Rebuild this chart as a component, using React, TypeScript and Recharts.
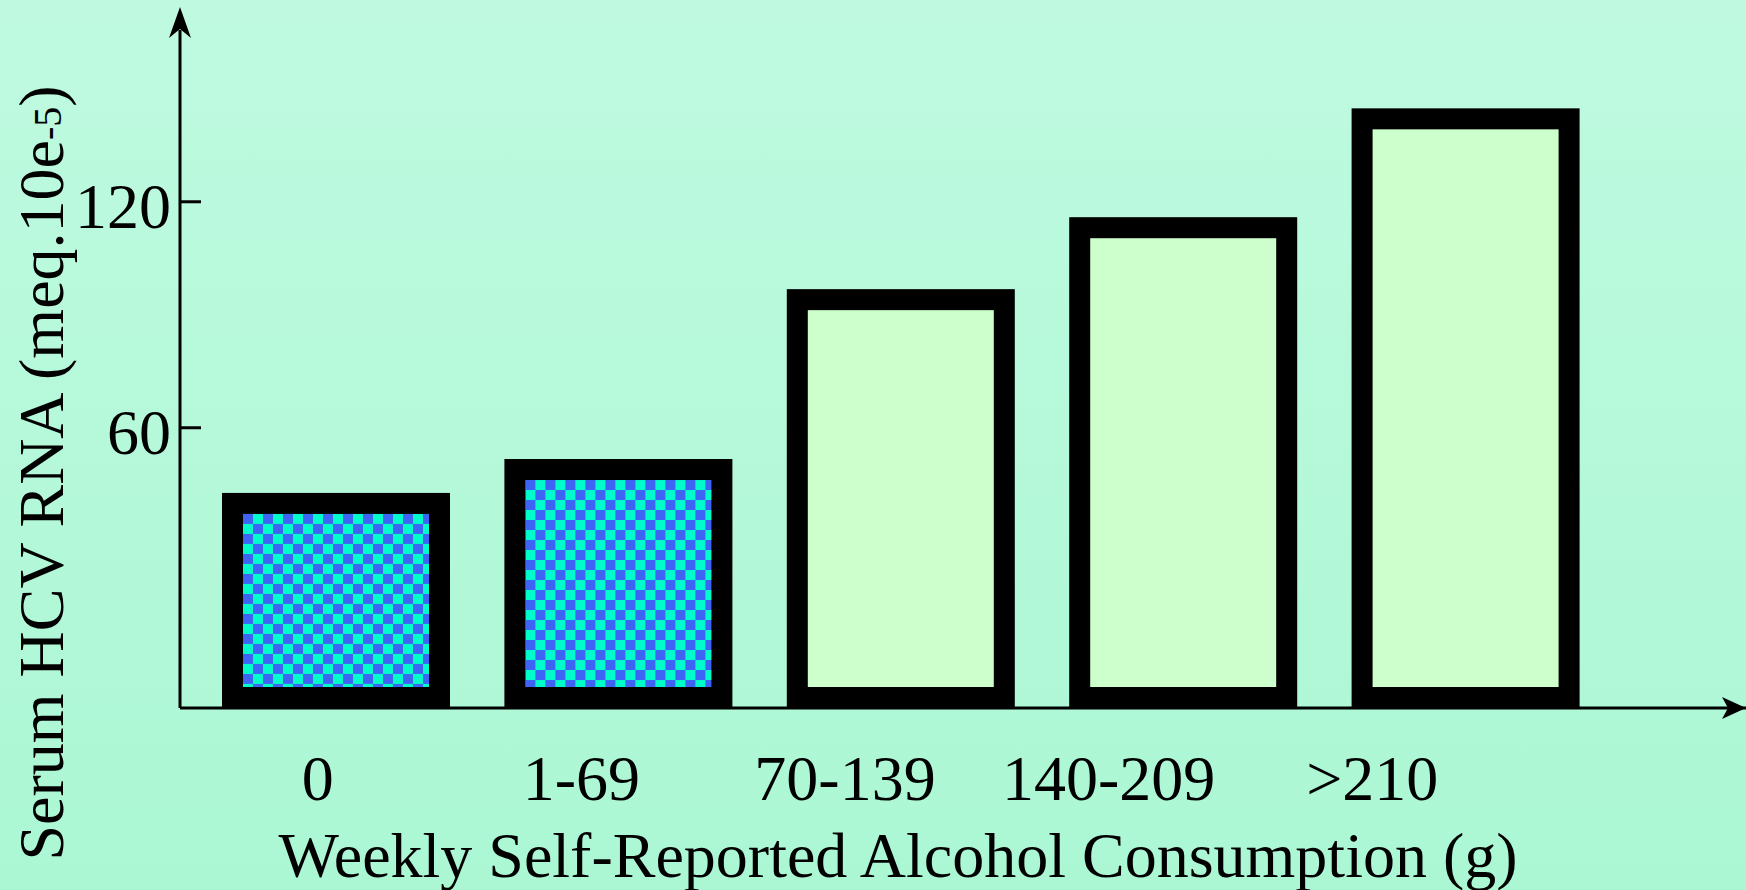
import React from 'react';
import * as R from 'recharts';

const { BarChart, Bar, XAxis, YAxis, Label } = R as any;

// ---- data ----
const CATEGORIES = ['0', '1-69', '70-139', '140-209', '>210'];
const HCV_RNA = [42.7, 51.7, 96.8, 115.9, 144.8];
const Y_TICKS = [60, 120];
const Y_DOMAIN: [number, number] = [-14.4, 165.6];
const X_TITLE = 'Weekly Self-Reported Alcohol Consumption (g)';
const Y_TITLE_MAIN = 'Serum HCV RNA (meq.10e';
const Y_TITLE_SUP = '-5';
const Y_TITLE_END = ')';

const data = CATEGORIES.map((name, i) => ({ name, range: [Y_DOMAIN[0], HCV_RNA[i]] }));

// ---- style ----
const FONT = '"Liberation Serif", "Times New Roman", serif';
const FS = 64;
const SW = 21;
const BLUE = '#3d64f5';
const CYAN = '#00fccb';
const LIGHT = '#ccffcc';
const CHECKER_COUNT = 2;

function BarShape(props: any) {
  const { x, y, width, height, index, payload } = props;
  const top = Math.min(y, y + height);
  const h = Math.abs(height);
  const idx = typeof index === 'number' ? index : CATEGORIES.indexOf(payload?.name);
  const checker = idx < CHECKER_COUNT;
  const pid = `chk-${idx}`;
  return (
    <g>
      {checker && (
        <defs>
          <pattern id={pid} x={x + SW} y={top + SW} width={20} height={20} patternUnits="userSpaceOnUse">
            <rect x={0} y={0} width={20} height={20} fill={CYAN} />
            <rect x={0} y={0} width={10} height={10} fill={BLUE} />
            <rect x={10} y={10} width={10} height={10} fill={BLUE} />
          </pattern>
        </defs>
      )}
      <rect
        x={x + SW / 2}
        y={top + SW / 2}
        width={Math.max(0, width - SW)}
        height={Math.max(0, h - SW)}
        fill={checker ? `url(#${pid})` : LIGHT}
        stroke="#000"
        strokeWidth={SW}
      />
    </g>
  );
}

function YTick(props: any) {
  const { x, y, payload } = props;
  return (
    <g>
      <line x1={x + 9} x2={x + 30} y1={y} y2={y} stroke="#000" strokeWidth={3} />
      <text x={x} y={y} dy={26} textAnchor="end" fontSize={FS} fontFamily={FONT} fill="#000">
        {payload.value}
      </text>
    </g>
  );
}

function YTitle(props: any) {
  const vb = props.viewBox || { x: 0, y: 30, width: 180, height: 678 };
  const cx = vb.x + 63;
  const cy = vb.y + 443;
  return (
    <text
      transform={`translate(${cx},${cy}) rotate(-90)`}
      textAnchor="middle"
      fontFamily={FONT}
      fontSize={FS}
      fill="#000"
    >
      {Y_TITLE_MAIN}
      <tspan fontSize={40} dy={-2}>{Y_TITLE_SUP}</tspan>
      <tspan dy={2}>{Y_TITLE_END}</tspan>
    </text>
  );
}

function XTitle(props: any) {
  const vb = props.viewBox || { x: 180, y: 708, width: 1566, height: 182 };
  return (
    <text x={vb.x + 718} y={vb.y + 169} textAnchor="middle" fontFamily={FONT} fontSize={FS} fill="#000">
      {X_TITLE}
    </text>
  );
}

const usePlotAreaHook = (R as any).usePlotArea;

function AxisArrows() {
  const pa = usePlotAreaHook ? usePlotAreaHook() : undefined;
  const area = pa || { x: 180, y: 30, width: 1566, height: 678 };
  const { x, y, width, height } = area;
  const bottom = y + height;
  const right = x + width;
  return (
    <g>
      <polygon
        points={`${x},${y - 23} ${x + 11},${y + 8} ${x},${y - 1} ${x - 11},${y + 8}`}
        fill="#000"
      />
      <polygon
        points={`${right},${bottom} ${right - 24},${bottom - 11} ${right - 18},${bottom} ${right - 24},${bottom + 11}`}
        fill="#000"
      />
    </g>
  );
}

export default function App() {
  return (
    <div
      style={{
        position: 'absolute',
        left: 0,
        top: 0,
        width: 1746,
        height: 890,
        background: 'linear-gradient(180deg, #bffae0 0%, #abf7d4 100%)',
      }}
    >
      <BarChart
        width={1746}
        height={890}
        data={data}
        margin={{ top: 30, right: 0, bottom: 0, left: 0 }}
      >
        <XAxis
          xAxisId="labels"
          dataKey="name"
          type="category"
          height={182}
          padding={{ left: 6, right: 242 }}
          interval={0}
          axisLine={{ stroke: '#000', strokeWidth: 3 }}
          tickLine={false}
          tickSize={0}
          tickMargin={47}
          tick={{ fill: '#000', fontSize: FS, fontFamily: FONT }}
        >
          <Label content={XTitle} />
        </XAxis>
        <XAxis
          xAxisId="bars"
          dataKey="name"
          type="category"
          hide
          height={0}
          padding={{ left: 15, right: 139 }}
        />
        <YAxis
          width={180}
          type="number"
          domain={Y_DOMAIN}
          ticks={Y_TICKS}
          allowDataOverflow
          axisLine={{ stroke: '#000', strokeWidth: 3 }}
          tickLine={false}
          tickSize={0}
          tickMargin={9}
          tick={YTick}
        >
          <Label content={YTitle} />
        </YAxis>
        <Bar
          xAxisId="bars"
          dataKey="range"
          barSize={228}
          isAnimationActive={false}
          shape={BarShape}
        />
        <AxisArrows />
      </BarChart>
    </div>
  );
}
